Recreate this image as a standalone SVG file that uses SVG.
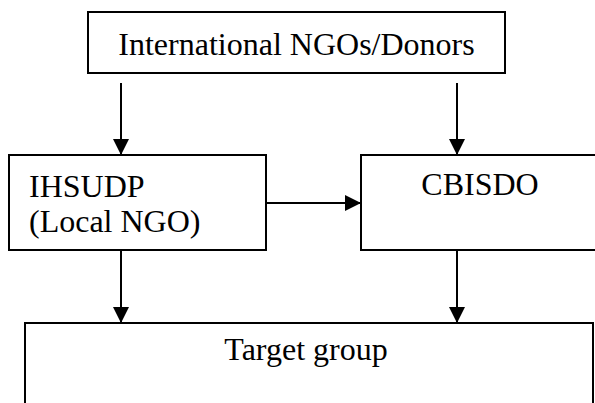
<svg xmlns="http://www.w3.org/2000/svg" width="595" height="403" viewBox="0 0 595 403">
<style>
.box{fill:#fff;stroke:#000;stroke-width:2}
.t{font-family:'Liberation Serif',serif;font-size:32px;fill:#000}
.c{stroke:#000;stroke-width:2;fill:none;marker-end:url(#ah)}
</style>
<defs>
<marker id="ah" markerUnits="userSpaceOnUse" markerWidth="16" markerHeight="16" viewBox="0 0 16 16" refX="16" refY="8" orient="auto">
<path d="M0,0 L16,8 L0,16 Z" fill="#000"/>
</marker>
</defs>
<rect width="595" height="403" fill="#fff"/>
<g id="donors">
<rect class="box" x="88" y="12" width="417" height="61"/>
<text class="t" x="296.5" y="55" text-anchor="middle">International NGOs/Donors</text>
</g>
<g id="ihsudp">
<rect class="box" x="9" y="155" width="257" height="95"/>
<text class="t" x="29" y="197">IHSUDP</text>
<text class="t" x="29" y="232">(Local NGO)</text>
</g>
<g id="cbisdo">
<rect class="box" x="361" y="155" width="240" height="95"/>
<text class="t" x="480" y="195" text-anchor="middle">CBISDO</text>
</g>
<g id="target">
<rect class="box" x="25" y="323" width="568" height="90"/>
<text class="t" x="306" y="360" text-anchor="middle">Target group</text>
</g>
<g id="connectors">
<line class="c" x1="121" y1="83" x2="121" y2="155"/>
<line class="c" x1="457" y1="83" x2="457" y2="155"/>
<line class="c" x1="266" y1="203" x2="361" y2="203"/>
<line class="c" x1="121" y1="250" x2="121" y2="323"/>
<line class="c" x1="457" y1="250" x2="457" y2="323"/>
</g>
</svg>
